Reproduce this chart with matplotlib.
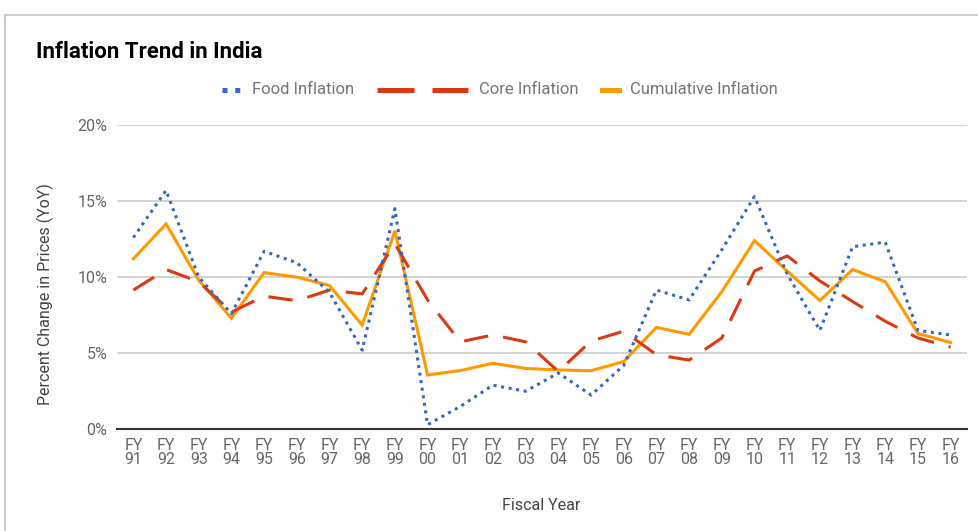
import numpy as np
import matplotlib.pyplot as plt
from matplotlib.lines import Line2D

years = ['91', '92', '93', '94', '95', '96', '97', '98', '99', '00', '01', '02', '03',
         '04', '05', '06', '07', '08', '09', '10', '11', '12', '13', '14', '15', '16']
food = [12.6, 15.7, 10.0, 7.6, 11.7, 10.95, 9.0, 5.2, 14.5, 0.3, 1.5, 2.9, 2.5,
        3.7, 2.25, 4.2, 9.15, 8.5, 11.8, 15.3, 10.2, 6.5, 12.0, 12.3, 6.5, 6.2]
core = [9.15, 10.5, 9.7, 7.7, 8.75, 8.45, 9.15, 8.9, 12.2, 8.5, 5.75, 6.2, 5.75,
        3.8, 5.8, 6.45, 4.9, 4.55, 6.0, 10.4, 11.4, 9.75, 8.4, 7.1, 6.0, 5.4]
cumulative = [11.2, 13.5, 9.8, 7.3, 10.3, 10.0, 9.45, 6.85, 13.05, 3.57, 3.86, 4.34, 4.0,
              3.9, 3.85, 4.45, 6.7, 6.24, 9.04, 12.4, 10.4, 8.46, 10.5, 9.7, 6.3, 5.7]
yticks = [0, 5, 10, 15, 20]

plt.rcParams['font.family'] = ['Roboto', 'DejaVu Sans']

BLUE = '#3366CC'
RED = '#DC3912'
ORANGE = '#FF9900'
GRAY = '#757575'

fig = plt.figure(figsize=(9.79, 5.31), dpi=100)
ax = fig.add_axes([117 / 979, 1 - 429.3 / 531, 850 / 979, 304.3 / 531])

x = np.arange(len(years))
ax.plot(x, cumulative, color=ORANGE, lw=2.2, solid_joinstyle='miter', zorder=3)
ax.plot(x, core, color=RED, lw=2.2, dashes=(8, 5), dash_capstyle='butt', zorder=4)
ax.plot(x, food, color=BLUE, lw=2.2, dashes=(1, 1.5), dash_capstyle='butt', zorder=5)

ax.set_xlim(-0.5, len(years) - 0.5)
ax.set_ylim(0, 20)
ax.set_yticks(yticks)
ax.set_yticklabels([f'{v}%' for v in yticks])
ax.set_xticks(x)
ax.set_xticklabels([f'FY\n{y}' for y in years], linespacing=0.95)
ax.tick_params(axis='both', length=0, labelsize=11.5)
ax.tick_params(axis='y', pad=7)
ax.tick_params(axis='x', pad=6)
for lab in ax.get_xticklabels() + ax.get_yticklabels():
    lab.set_color('#666666')

ax.grid(axis='y', color='#cccccc', lw=1.2)
ax.set_axisbelow(True)
for s in ['top', 'right', 'left']:
    ax.spines[s].set_visible(False)
ax.spines['bottom'].set_color('#333333')
ax.spines['bottom'].set_linewidth(1.5)

fig.text(45 / 979, 1 - 294 / 531, 'Percent Change in Prices (YoY)', rotation=90,
         ha='center', va='center', fontsize=11.5, color='#444444')
fig.text(541 / 979, 1 - 505 / 531, 'Fiscal Year', ha='center', va='center',
         fontsize=11.5, color='#444444')
fig.text(36 / 979, 1 - 52 / 531, 'Inflation Trend in India', ha='left', va='center',
         fontsize=16, fontweight='bold', color='black')

# legend
ly = 1 - 90 / 531
fig.add_artist(Line2D([222 / 979, 240 / 979], [ly, ly], color=BLUE, lw=3.6,
                      dashes=(1, 1.55), dash_capstyle='butt'))
fig.text(252 / 979, ly, 'Food Inflation', ha='left', va='center', fontsize=12, color=GRAY)
fig.add_artist(Line2D([377 / 979, 468 / 979], [ly, ly], color=RED, lw=3.6,
                      dashes=(7.4, 3.6), dash_capstyle='butt'))
fig.text(479 / 979, ly, 'Core Inflation', ha='left', va='center', fontsize=12, color=GRAY)
fig.add_artist(Line2D([602 / 979, 619 / 979], [ly, ly], color=ORANGE, lw=3.6))
fig.text(630 / 979, ly, 'Cumulative Inflation', ha='left', va='center', fontsize=12, color=GRAY)

# frame of the chart card
fig.add_artist(Line2D([5 / 979, 1], [1 - 15 / 531, 1 - 15 / 531], color='#cccccc', lw=1.5))
fig.add_artist(Line2D([5 / 979, 5 / 979], [0, 1 - 15 / 531], color='#cccccc', lw=1.5))

fig.savefig('out.png', dpi=100)
